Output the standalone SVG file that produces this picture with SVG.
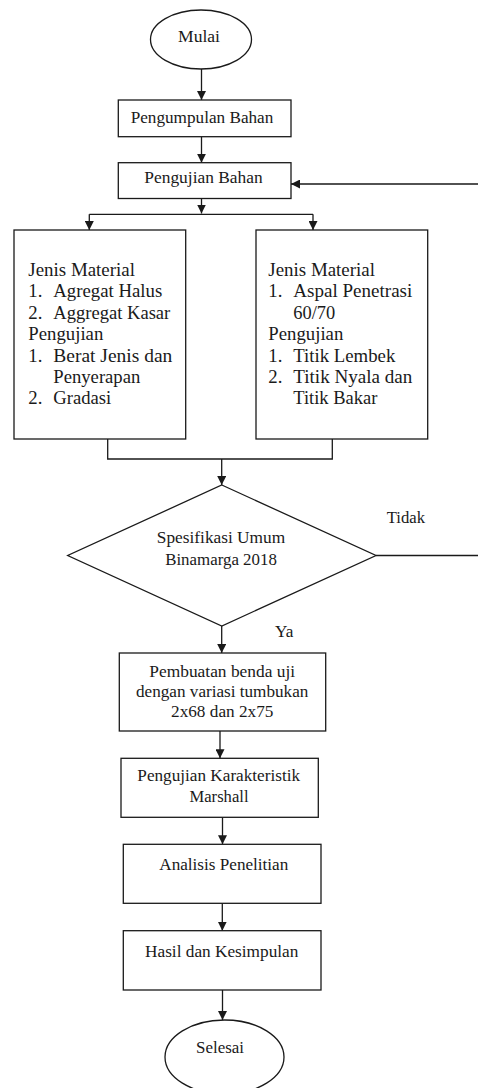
<svg xmlns="http://www.w3.org/2000/svg" width="478" height="1088" viewBox="0 0 478 1088" font-family="'Liberation Serif', 'Times New Roman', Tinos, 'DejaVu Serif', serif">
<style>
.s{fill:#fff;stroke:#1a1a1a;stroke-width:1.3}
.c{fill:none;stroke:#1a1a1a;stroke-width:1.3}
.t{font-size:17.3px;fill:#1a1a1a}
.m{text-anchor:middle}
.b{font-size:18.8px;fill:#1a1a1a}
</style>
<defs>
<marker id="ah" viewBox="0 0 10 10" refX="10" refY="5" markerWidth="9" markerHeight="9" markerUnits="userSpaceOnUse" orient="auto">
<path d="M0,0 L10,5 L0,10 z" fill="#1a1a1a"/>
</marker>
</defs>
<rect width="478" height="1088" fill="#fff"/>
<g id="connectors">
<path class="c" d="M201.5 69 V100" marker-end="url(#ah)"/>
<path class="c" d="M201.5 136.7 V162.7" marker-end="url(#ah)"/>
<path class="c" d="M201.5 198.5 V213.5" marker-end="url(#ah)"/>
<path class="c" d="M89.3 214.3 H313"/>
<path class="c" d="M89.3 214.3 V230" marker-end="url(#ah)"/>
<path class="c" d="M313 214.3 V230" marker-end="url(#ah)"/>
<path class="c" d="M107.7 439 V459 H332.3 V439"/>
<path class="c" d="M221.7 459 V485" marker-end="url(#ah)"/>
<path class="c" d="M376 555.5 H479.5 V184 H291" marker-end="url(#ah)"/>
<path class="c" d="M221.7 626 V653" marker-end="url(#ah)"/>
<path class="c" d="M220 731 V758.3" marker-end="url(#ah)"/>
<path class="c" d="M222.5 817.3 V844.3" marker-end="url(#ah)"/>
<path class="c" d="M222.3 903.3 V930.7" marker-end="url(#ah)"/>
<path class="c" d="M222.5 990 V1020" marker-end="url(#ah)"/>
<text class="t" x="386.7" y="523.3" textLength="38.3" lengthAdjust="spacingAndGlyphs">Tidak</text>
<text class="t" x="275" y="637" textLength="18.3" lengthAdjust="spacingAndGlyphs">Ya</text>
</g>
<g id="mulai">
<ellipse class="s" cx="201" cy="39.5" rx="50.5" ry="29.5"/>
<text class="t m" x="199" y="42" textLength="42" lengthAdjust="spacingAndGlyphs">Mulai</text>
</g>
<g id="pengumpulan">
<rect class="s" x="118.3" y="100" width="172.7" height="36.7"/>
<text class="t m" x="202" y="123" textLength="142.7" lengthAdjust="spacingAndGlyphs">Pengumpulan Bahan</text>
</g>
<g id="pengujian">
<rect class="s" x="118.3" y="162.7" width="172.7" height="35.8"/>
<text class="t m" x="203.5" y="183" textLength="118.3" lengthAdjust="spacingAndGlyphs">Pengujian Bahan</text>
</g>
<g id="material-agregat">
<rect class="s" x="14" y="230" width="171.7" height="209"/>
<text class="b" x="28.3" y="276" textLength="106.7" lengthAdjust="spacingAndGlyphs">Jenis Material</text>
<text class="b" x="28.3" y="297.4">1.</text>
<text class="b" x="53.3" y="297.4" textLength="109" lengthAdjust="spacingAndGlyphs">Agregat Halus</text>
<text class="b" x="28.3" y="318.8">2.</text>
<text class="b" x="53.3" y="318.8" textLength="117" lengthAdjust="spacingAndGlyphs">Aggregat Kasar</text>
<text class="b" x="28.3" y="340.2" textLength="75" lengthAdjust="spacingAndGlyphs">Pengujian</text>
<text class="b" x="28.3" y="361.6">1.</text>
<text class="b" x="53.3" y="361.6" textLength="119" lengthAdjust="spacingAndGlyphs">Berat Jenis dan</text>
<text class="b" x="53.3" y="383" textLength="87" lengthAdjust="spacingAndGlyphs">Penyerapan</text>
<text class="b" x="28.3" y="404.4">2.</text>
<text class="b" x="53.3" y="404.4" textLength="58" lengthAdjust="spacingAndGlyphs">Gradasi</text>
</g>
<g id="material-aspal">
<rect class="s" x="256" y="230" width="171.7" height="209"/>
<text class="b" x="268.3" y="276" textLength="106.7" lengthAdjust="spacingAndGlyphs">Jenis Material</text>
<text class="b" x="268.3" y="297.4">1.</text>
<text class="b" x="293.3" y="297.4" textLength="119" lengthAdjust="spacingAndGlyphs">Aspal Penetrasi</text>
<text class="b" x="293.3" y="318.8" textLength="42" lengthAdjust="spacingAndGlyphs">60/70</text>
<text class="b" x="268.3" y="340.2" textLength="75" lengthAdjust="spacingAndGlyphs">Pengujian</text>
<text class="b" x="268.3" y="361.6">1.</text>
<text class="b" x="293.3" y="361.6" textLength="102" lengthAdjust="spacingAndGlyphs">Titik Lembek</text>
<text class="b" x="268.3" y="383">2.</text>
<text class="b" x="293.3" y="383" textLength="119" lengthAdjust="spacingAndGlyphs">Titik Nyala dan</text>
<text class="b" x="293.3" y="404.4" textLength="84" lengthAdjust="spacingAndGlyphs">Titik Bakar</text>
</g>
<g id="spesifikasi">
<polygon class="s" points="221.8,485 376,555.5 221.8,626 67.7,555.5"/>
<text class="t m" x="221" y="543" textLength="128.3" lengthAdjust="spacingAndGlyphs">Spesifikasi Umum</text>
<text class="t m" x="221" y="565" textLength="111.7" lengthAdjust="spacingAndGlyphs">Binamarga 2018</text>
</g>
<g id="pembuatan">
<rect class="s" x="119.3" y="653" width="206.4" height="78"/>
<text class="t m" x="222.2" y="676.7" textLength="145.7" lengthAdjust="spacingAndGlyphs">Pembuatan benda uji</text>
<text class="t m" x="222.2" y="696.7" textLength="172.3" lengthAdjust="spacingAndGlyphs">dengan variasi tumbukan</text>
<text class="t m" x="222.2" y="717.3" textLength="102.3" lengthAdjust="spacingAndGlyphs">2x68 dan 2x75</text>
</g>
<g id="marshall">
<rect class="s" x="121" y="758.3" width="197.3" height="59"/>
<text class="t m" x="218.7" y="780.7" textLength="162.7" lengthAdjust="spacingAndGlyphs">Pengujian Karakteristik</text>
<text class="t m" x="219" y="801.7" textLength="59" lengthAdjust="spacingAndGlyphs">Marshall</text>
</g>
<g id="analisis">
<rect class="s" x="123.3" y="844.3" width="197.7" height="59"/>
<text class="t m" x="223.8" y="870" textLength="129" lengthAdjust="spacingAndGlyphs">Analisis Penelitian</text>
</g>
<g id="hasil">
<rect class="s" x="123.3" y="930.7" width="197.7" height="59.3"/>
<text class="t m" x="221.7" y="956.7" textLength="153.3" lengthAdjust="spacingAndGlyphs">Hasil dan Kesimpulan</text>
</g>
<g id="selesai">
<ellipse class="s" cx="224.5" cy="1057" rx="59.5" ry="37"/>
<text class="t m" x="220" y="1053.3" textLength="48" lengthAdjust="spacingAndGlyphs">Selesai</text>
</g>
</svg>
